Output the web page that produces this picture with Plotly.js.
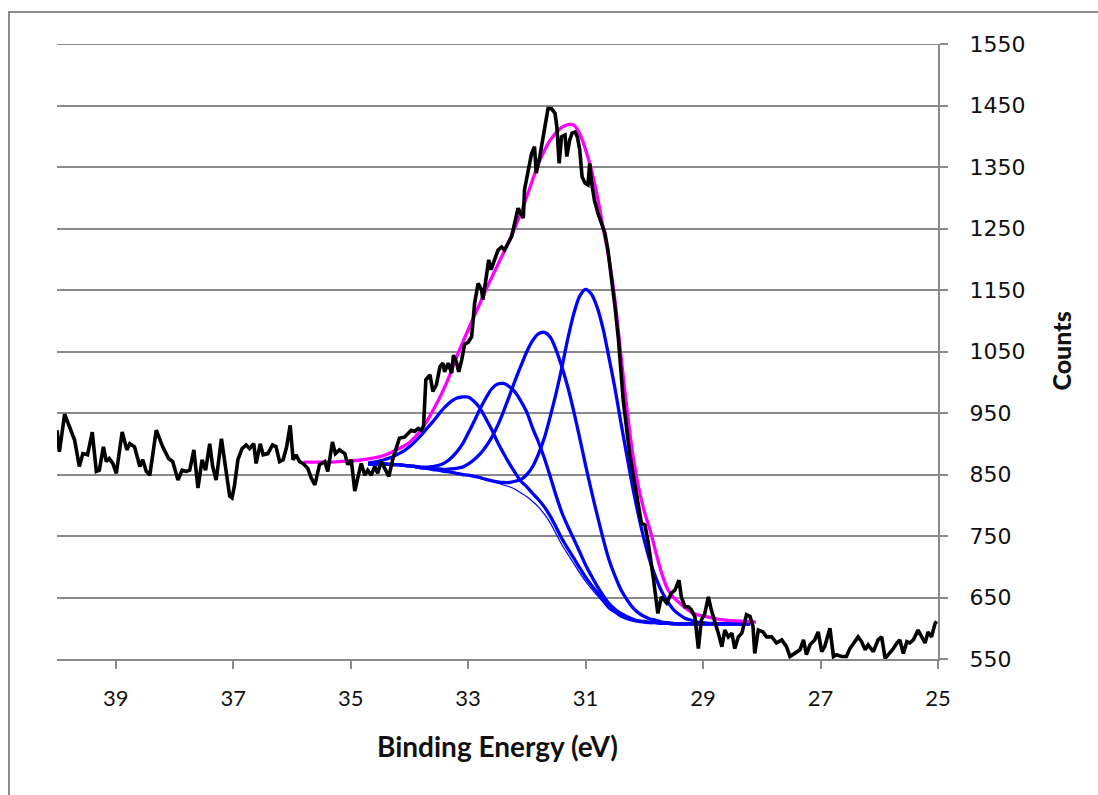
<!DOCTYPE html>
<html>
<head>
<meta charset="utf-8">
<script src="https://cdn.plot.ly/plotly-3.0.1.min.js"></script>
<style>
  html, body { margin: 0; padding: 0; background: #fff; overflow: hidden; }
  #wrap { position: relative; width: 1098px; height: 795px; }
  #chart { position: absolute; left: 0; top: 0; width: 1098px; height: 795px; }
  #frame { position: absolute; left: 8px; top: 11px; width: 1200px; height: 900px;
           border-left: 2px solid #8c8c8c; border-top: 2px solid #8c8c8c; pointer-events: none; }
</style>
</head>
<body>
<div id="wrap"><div id="chart"></div><div id="frame"></div></div>
<script>
// ---- measured spectrum (black) ----
const blackEnergy = [
40.00,39.96,39.87,39.79,39.70,39.62,39.56,39.48,39.40,39.33,39.28,39.21,39.16,39.11,39.05,38.99,38.89,38.81,38.76,38.68,
38.59,38.54,38.48,38.42,38.31,38.20,38.10,38.03,37.94,37.87,37.80,37.74,37.67,37.60,37.53,37.47,37.40,37.35,37.29,37.20,
37.15,37.12,37.06,37.02,36.98,36.92,36.85,36.78,36.72,36.65,36.61,36.54,36.49,36.41,36.33,36.27,36.21,36.15,36.09,36.03,
35.98,35.93,35.87,35.81,35.73,35.67,35.61,35.53,35.44,35.39,35.31,35.26,35.19,35.10,35.05,34.99,34.93,34.88,34.82,34.76,
34.71,34.65,34.59,34.54,34.48,34.42,34.35,34.28,34.17,34.08,34.02,33.97,33.91,33.85,33.80,33.76,33.72,33.65,33.60,33.54,
33.48,33.43,33.40,33.34,33.28,33.25,33.20,33.16,33.11,33.06,33.00,32.94,32.89,32.83,32.77,32.75,32.69,32.65,32.61,32.55,
32.49,32.43,32.38,32.32,32.26,32.21,32.15,32.11,32.06,32.04,31.98,31.92,31.87,31.84,31.78,31.72,31.68,31.64,31.58,31.52,
31.49,31.45,31.41,31.35,31.32,31.27,31.23,31.18,31.14,31.10,31.06,31.01,30.96,30.93,30.90,30.85,30.79,30.73,30.67,30.62,
30.56,30.50,30.44,30.39,30.36,30.25,30.13,30.05,29.99,29.94,29.85,29.77,29.71,29.62,29.54,29.48,29.41,29.37,29.31,29.25,
29.20,29.14,29.08,29.03,28.97,28.91,28.86,28.80,28.74,28.68,28.63,28.57,28.51,28.46,28.40,28.34,28.26,28.20,28.15,28.12,
28.06,27.98,27.92,27.83,27.75,27.66,27.58,27.52,27.44,27.35,27.29,27.24,27.18,27.10,27.04,26.98,26.93,26.84,26.78,26.73,
26.64,26.56,26.50,26.41,26.36,26.30,26.24,26.19,26.10,26.02,25.96,25.90,25.82,25.76,25.70,25.65,25.59,25.53,25.48,25.42,
25.34,25.28,25.22,25.17,25.11,25.05,25.02];
const blackCounts = [
922,887,948,930,906,863,884,882,919,855,857,895,871,876,868,852,919,890,900,895,
863,874,855,849,922,895,876,871,841,857,855,857,890,828,874,857,900,863,841,908,
874,863,815,812,831,874,892,898,892,900,868,900,882,884,898,895,871,874,895,930,
874,882,871,868,860,844,833,866,871,855,903,884,890,884,866,874,823,844,868,849,
857,849,863,852,871,860,847,876,909,911,917,922,920,925,922,928,1004,1012,985,996,
1025,1031,1017,1031,1015,1044,1033,1017,1036,1062,1065,1074,1128,1161,1150,1134,1172,1199,1183,1199,
1215,1220,1215,1226,1237,1258,1283,1275,1267,1313,1345,1372,1383,1340,1367,1399,1421,1445,1445,1437,
1416,1356,1399,1402,1367,1394,1405,1407,1399,1378,1334,1324,1321,1356,1326,1296,1275,1258,1242,1215,
1172,1123,1069,1009,971,884,819,771,768,743,684,624,651,641,657,662,678,651,635,635,
630,619,567,613,624,651,630,613,592,570,597,586,592,567,586,592,622,619,603,559,
597,594,586,586,576,581,570,554,559,565,581,557,573,581,594,562,570,600,554,557,
554,554,567,581,586,578,565,573,562,581,586,551,559,567,576,581,559,578,576,581,
597,586,576,594,586,608,611];

// ---- fitted components (blue) ----
const fitEnergy = [
34.7,34.6,34.5,34.4,34.3,34.2,34.1,34.0,33.9,33.8,33.7,33.6,33.5,33.4,33.3,33.2,33.1,33.0,32.9,32.8,
32.7,32.6,32.5,32.4,32.3,32.2,32.1,32.0,31.9,31.8,31.7,31.6,31.5,31.4,31.3,31.2,31.1,31.0,30.9,30.8,
30.7,30.6,30.5,30.4,30.3,30.2,30.1,30.0,29.9,29.8,29.7,29.6,29.5,29.4,29.3,29.2,29.1,29.0,28.9,28.8,
28.7,28.6,28.5,28.4,28.3,28.2];
const background = [
867,867,867,867,866,866,865,864,863,861,860,858,857,855,854,852,850,849,847,845,
842,839,836,833,830,826,820,814,806,797,785,771,753,735,720,705,690,676,664,653,
642,631,625,619,616,613,611,610,609,609,608,608,607,607,607,607,607,607,607,607,
607,607,607,607,607,607];
const peak33_0 = [
869,870,872,875,878,883,888,895,904,914,925,936,948,959,968,974,976,976,969,958,
941,923,903,885,868,853,839,830,819,809,797,782,764,745,729,714,698,683,670,658,
646,634,627,620,616,613,611,610,609,609,608,608,607,607,607,607,607,607,607,607,
607,607,607,607,607,607];
const peak32_4 = [
867,867,867,867,866,866,865,864,863,862,862,863,865,869,876,886,899,917,936,956,
974,989,997,998,993,984,969,951,925,902,876,846,815,787,765,745,724,703,685,668,
653,640,631,624,619,615,612,611,610,609,608,608,607,607,607,607,607,607,607,607,
607,607,607,607,607,607];
const peak31_7 = [
867,867,867,867,866,866,865,864,863,861,861,859,859,858,859,860,862,867,874,883,
895,910,929,952,977,1003,1027,1050,1068,1079,1081,1073,1052,1024,991,952,909,865,823,783,
745,711,685,663,647,634,625,619,615,613,610,609,608,607,607,607,607,607,607,607,
607,607,607,607,607,607];
const peak31_0 = [
867,867,867,867,866,866,865,864,863,861,860,858,857,855,854,852,850,849,847,845,
842,840,838,837,837,839,842,850,863,884,910,945,983,1026,1072,1112,1140,1151,1143,1121,
1086,1039,990,935,882,830,784,743,708,681,659,643,630,622,616,613,610,609,608,608,
607,607,607,607,607,607];

// ---- envelope (magenta) ----
const envelopeEnergy = [
35.8,35.6,35.4,35.2,35.0,34.8,34.6,34.5,34.4,34.3,34.2,34.1,34.0,33.9,33.8,33.7,33.6,33.5,33.4,33.3,
33.2,33.1,33.0,32.9,32.8,32.7,32.6,32.5,32.4,32.3,32.2,32.1,32.0,31.9,31.8,31.7,31.6,31.5,31.4,31.3,
31.2,31.1,31.0,30.9,30.8,30.7,30.6,30.5,30.4,30.3,30.2,30.1,30.0,29.9,29.8,29.7,29.6,29.5,29.4,29.3,
29.2,29.1,29.0,28.9,28.8,28.7,28.6,28.5,28.4,28.3,28.2,28.1];
const envelope = [
870,870,870,871,872,874,877,879,882,886,891,896,902,911,923,937,954,972,992,1015,
1040,1063,1085,1107,1128,1150,1170,1190,1210,1230,1252,1276,1302,1330,1356,1377,1394,1406,1415,1419,
1418,1404,1378,1345,1302,1250,1200,1133,1045,960,885,830,790,759,722,688,663,650,641,633,
626,622,620,618,616,614,613,612,612,611,611,610];

// ---- axis ticks ----
const xTickValues = [39, 37, 35, 33, 31, 29, 27, 25];
const yTickValues = [550, 650, 750, 850, 950, 1050, 1150, 1250, 1350, 1450, 1550];

const BLUE = '#0000ff';
const blueLine = { color: BLUE, width: 3.3, shape: 'spline', smoothing: 0.8 };

const traces = [
  { x: fitEnergy, y: background, mode: 'lines', line: { color: BLUE, width: 1.2, shape: 'spline', smoothing: 0.8 }, hoverinfo: 'skip' },
  { x: fitEnergy, y: peak33_0, mode: 'lines', line: blueLine, hoverinfo: 'skip' },
  { x: fitEnergy, y: peak32_4, mode: 'lines', line: blueLine, hoverinfo: 'skip' },
  { x: fitEnergy, y: peak31_7, mode: 'lines', line: blueLine, hoverinfo: 'skip' },
  { x: fitEnergy, y: peak31_0, mode: 'lines', line: blueLine, hoverinfo: 'skip' },
  { x: envelopeEnergy, y: envelope, mode: 'lines', line: { color: '#ff00ff', width: 3.3, shape: 'spline', smoothing: 0.8 }, hoverinfo: 'skip' },
  { x: blackEnergy, y: blackCounts, mode: 'lines', line: { color: '#000000', width: 3.6 }, hoverinfo: 'skip' }
];

const GRID = '#8a8a8a';
const layout = {
  width: 1098, height: 795,
  margin: { l: 57, r: 160, t: 44, b: 136, pad: 0 },
  paper_bgcolor: '#ffffff', plot_bgcolor: '#ffffff',
  showlegend: false,
  xaxis: {
    range: [40, 25], tickmode: 'array', tickvals: xTickValues, ticktext: xTickValues.map(String),
    showgrid: false, zeroline: false,
    showline: true, linecolor: GRID, linewidth: 2,
    ticks: 'outside', ticklen: 8, tickwidth: 2, tickcolor: GRID,
    ticklabelstandoff: 11,
    tickfont: { family: 'Lato, "Open Sans", sans-serif', size: 22, color: '#111' }
  },
  yaxis: {
    side: 'right', range: [550, 1550], tickmode: 'array', tickvals: yTickValues, ticktext: yTickValues.map(String),
    showgrid: true, gridcolor: GRID, gridwidth: 2, zeroline: false,
    showline: true, linecolor: GRID, linewidth: 2,
    ticks: 'outside', ticklen: 8, tickwidth: 2, tickcolor: GRID,
    ticklabelstandoff: 17,
    tickfont: { family: '"DejaVu Sans", Verdana, sans-serif', size: 22, color: '#111' }
  },
  shapes: [
    { type: 'line', xref: 'paper', yref: 'y', x0: 0, x1: 1, y0: 1550, y1: 1550,
      line: { color: GRID, width: 2 }, layer: 'below' }
  ],
  annotations: [
    { text: 'Binding Energy (eV)', xref: 'paper', yref: 'paper', x: 0.5, y: -0.1415,
      xanchor: 'center', yanchor: 'middle', showarrow: false,
      font: { family: 'Lato, sans-serif', size: 28, weight: 700, color: '#111' } },
    { text: 'Counts', xref: 'paper', yref: 'paper', x: 1.1385, y: 0.5, textangle: -90,
      xanchor: 'center', yanchor: 'middle', showarrow: false,
      font: { family: 'Lato, sans-serif', size: 25, weight: 900, color: '#111' } }
  ]
};

Plotly.newPlot('chart', traces, layout, { staticPlot: true, displayModeBar: false });
</script>
</body>
</html>
